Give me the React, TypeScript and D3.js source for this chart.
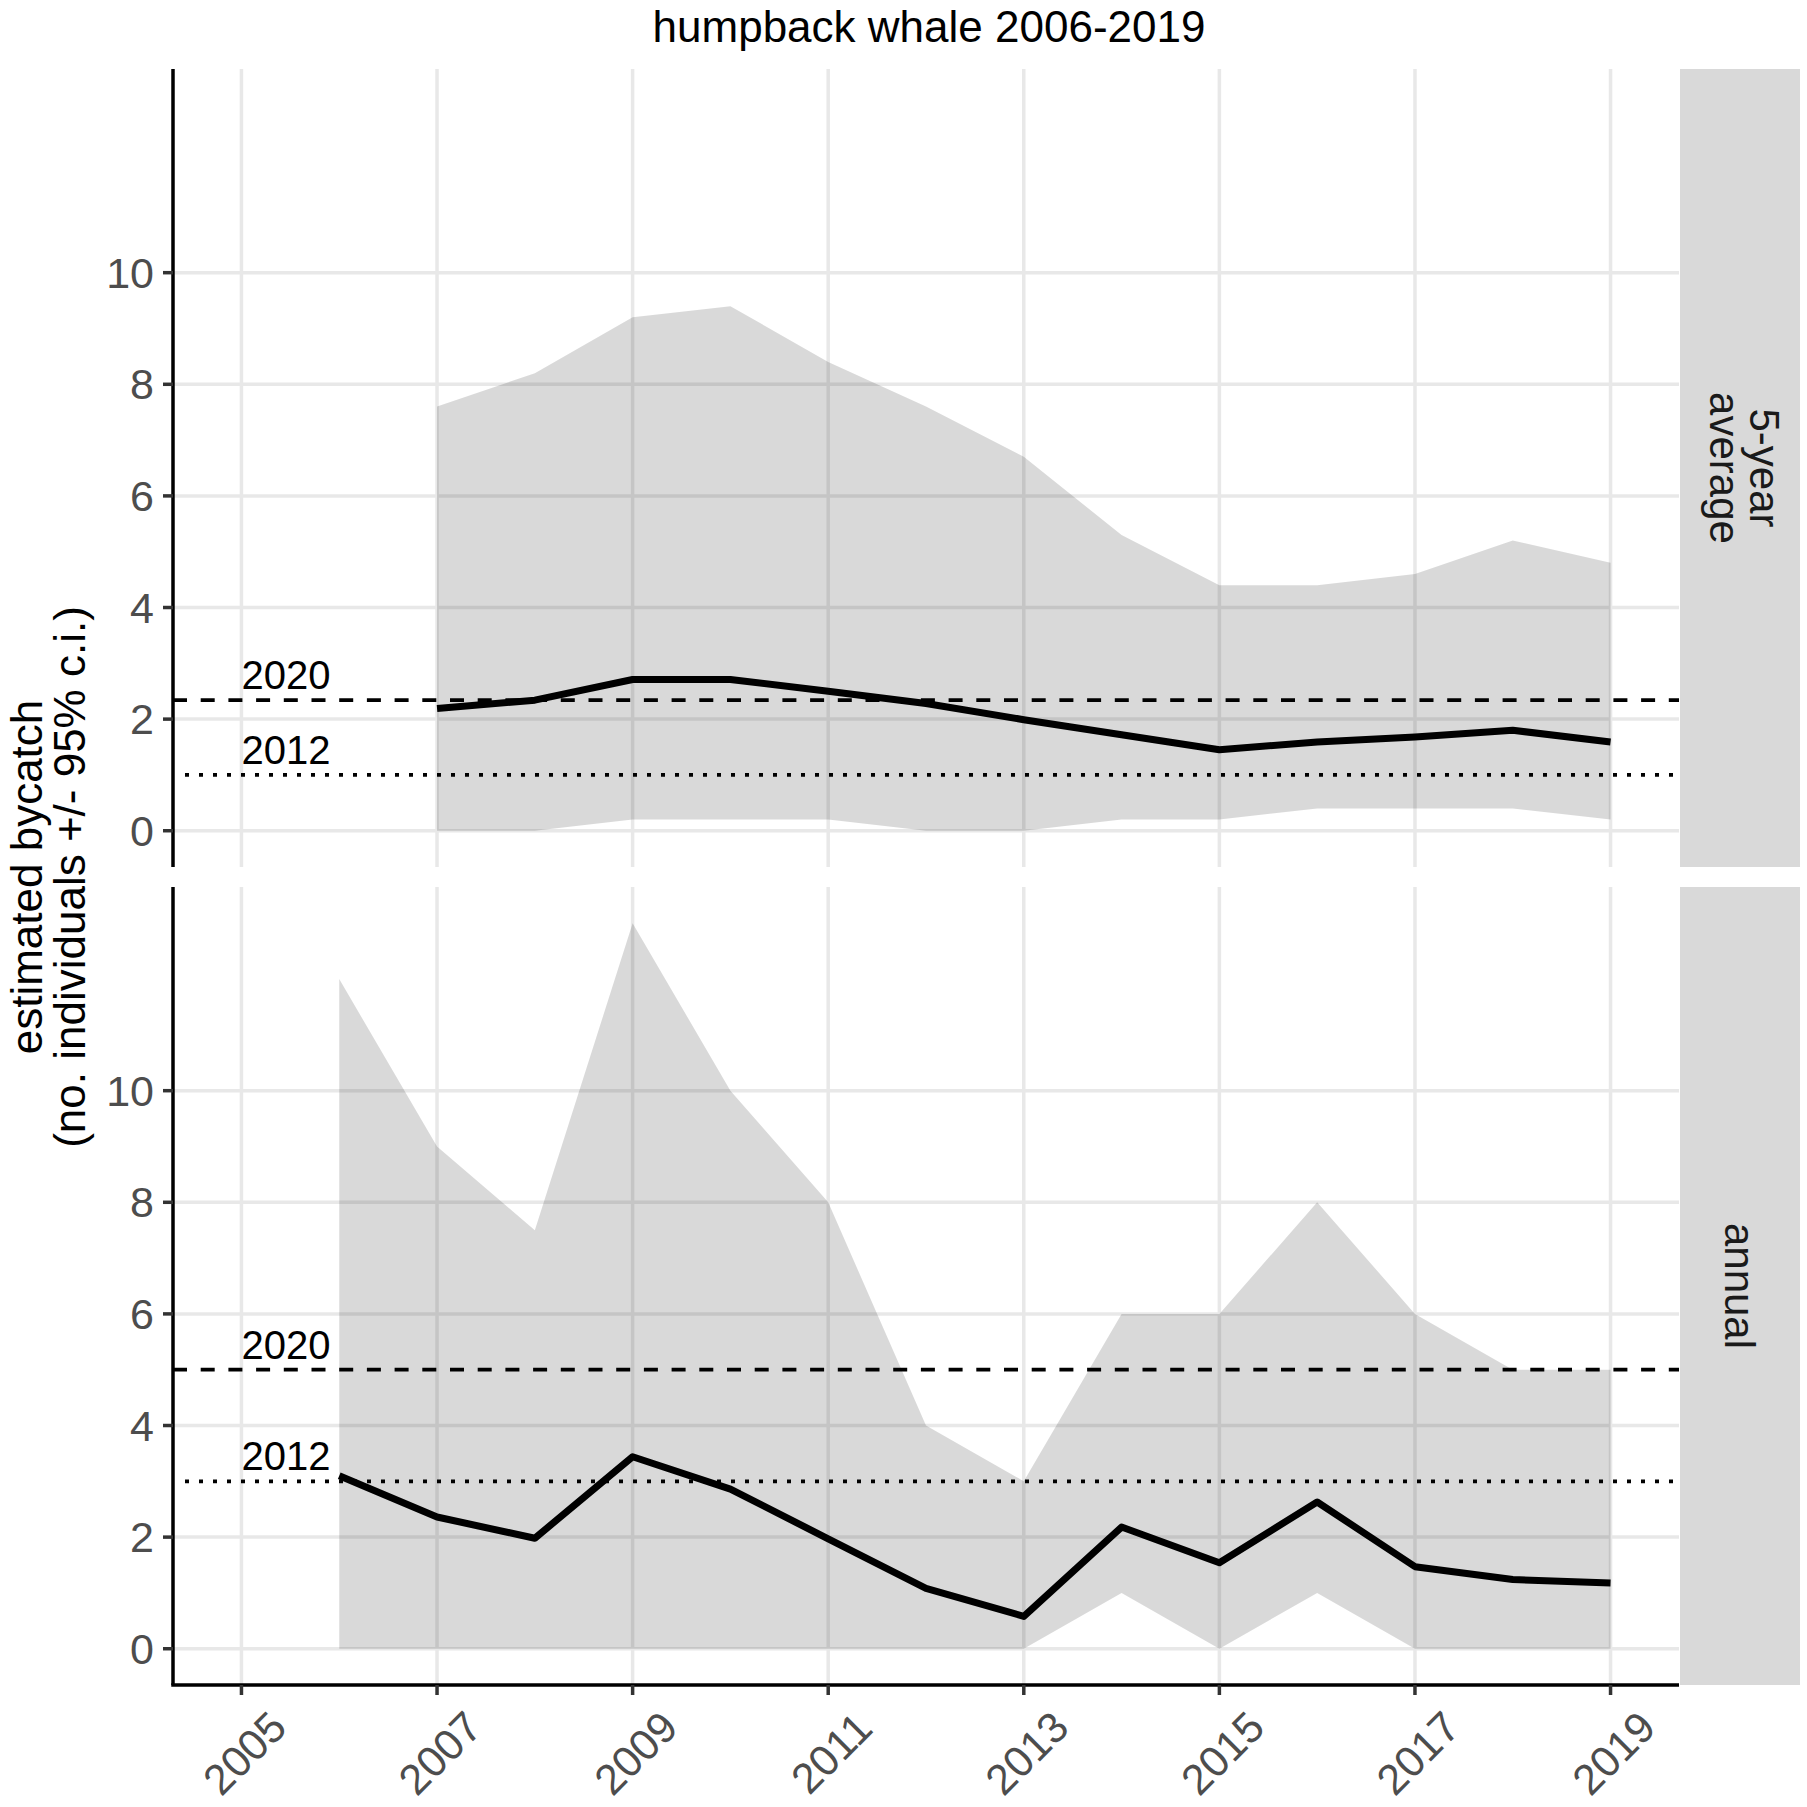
import React from 'react';
import * as d3 from 'd3';

// 5-year average panel
const avgYears = [2007, 2008, 2009, 2010, 2011, 2012, 2013, 2014, 2015, 2016, 2017, 2018, 2019];
const avgMean = [2.19, 2.34, 2.71, 2.71, 2.5, 2.28, 1.99, 1.72, 1.45, 1.59, 1.68, 1.8, 1.59];
const avgUpper = [7.6, 8.2, 9.2, 9.4, 8.4, 7.6, 6.7, 5.3, 4.4, 4.4, 4.6, 5.2, 4.8];
const avgLower = [0, 0, 0.2, 0.2, 0.2, 0, 0, 0.2, 0.2, 0.4, 0.4, 0.4, 0.2];

// annual panel
const annYears = [2006, 2007, 2008, 2009, 2010, 2011, 2012, 2013, 2014, 2015, 2016, 2017, 2018, 2019];
const annMean = [3.1, 2.36, 1.98, 3.44, 2.86, 1.97, 1.08, 0.58, 2.18, 1.54, 2.63, 1.47, 1.24, 1.18];
const annUpper = [12, 9, 7.5, 13, 10, 8, 4, 3, 6, 6, 8, 6, 5, 5];
const annLower = [0, 0, 0, 0, 0, 0, 0, 0, 1, 0, 1, 0, 0, 0];

// reference levels (2020 dashed, 2012 dotted)
const refLabels = ['2020', '2012'];
const avgRefs = [2.34, 1.0];
const annRefs = [5, 3];

const xTicks = [2005, 2007, 2009, 2011, 2013, 2015, 2017, 2019];
const yTicks = [0, 2, 4, 6, 8, 10];

const W = 1807;
const H = 1807;
const FONT = '"Liberation Sans", Arial, Helvetica, sans-serif';
const panelLeft = 173;
const panelRight = 1679;
const stripLeft = 1680;
const stripRight = 1800;

const panels = [
  { top: 69, bottom: 867, years: avgYears, mean: avgMean, upper: avgUpper, lower: avgLower, refs: avgRefs, strip: ['5-year', 'average'] },
  { top: 887, bottom: 1685, years: annYears, mean: annMean, upper: annUpper, lower: annLower, refs: annRefs, strip: ['annual'] },
];

const x = d3.scaleLinear().domain([2004.3, 2019.7]).range([panelLeft, panelRight]);

const Panel: React.FC<{ p: typeof panels[number]; last: boolean }> = ({ p, last }) => {
  const y = d3.scaleLinear().domain([-0.65, 13.65]).range([p.bottom, p.top]);
  const rows = p.years.map((yr, i) => ({ yr, m: p.mean[i], lo: p.lower[i], hi: p.upper[i] }));
  const area = d3.area<typeof rows[number]>().x(d => x(d.yr)).y0(d => y(d.lo)).y1(d => y(d.hi));
  const line = d3.line<typeof rows[number]>().x(d => x(d.yr)).y(d => y(d.m));
  const cy = (p.top + p.bottom) / 2;
  const cx = (stripLeft + stripRight) / 2;

  return (
    <g>
      {/* grid */}
      {xTicks.map(t => (
        <line key={'gx' + t} x1={x(t)} x2={x(t)} y1={p.top} y2={p.bottom} stroke="#E8E8E8" strokeWidth={3.5} />
      ))}
      {yTicks.map(t => (
        <line key={'gy' + t} x1={panelLeft} x2={panelRight} y1={y(t)} y2={y(t)} stroke="#E8E8E8" strokeWidth={3.5} />
      ))}

      <path d={area(rows) || ''} fill="#000" fillOpacity={0.15} />

      {/* reference lines */}
      <line x1={panelLeft} x2={panelRight} y1={y(p.refs[0])} y2={y(p.refs[0])} stroke="#000" strokeWidth={3.8} strokeDasharray="14 13.7" />
      <line x1={panelLeft + 12} x2={panelRight} y1={y(p.refs[1])} y2={y(p.refs[1])} stroke="#000" strokeWidth={3.8} strokeDasharray="4 10" />
      {refLabels.map((lab, i) => (
        <text key={lab} x={x(2005)} y={y(p.refs[i]) - 11} fontSize={40} fill="#000" fontFamily={FONT}>{lab}</text>
      ))}

      <path d={line(rows) || ''} fill="none" stroke="#000" strokeWidth={7} strokeLinejoin="round" />

      {/* y axis */}
      <line x1={panelLeft} x2={panelLeft} y1={p.top} y2={p.bottom} stroke="#000" strokeWidth={3.5} />
      {yTicks.map(t => (
        <g key={'ty' + t}>
          <line x1={panelLeft - 10} x2={panelLeft} y1={y(t)} y2={y(t)} stroke="#333" strokeWidth={3.5} />
          <text x={154} y={y(t)} dy="0.35em" textAnchor="end" fontSize={43} fill="#4D4D4D" fontFamily={FONT}>{t}</text>
        </g>
      ))}

      {/* strip */}
      <rect x={stripLeft} y={p.top} width={stripRight - stripLeft} height={p.bottom - p.top} fill="#D9D9D9" />
      <g transform={`translate(${cx},${cy}) rotate(90)`}>
        {p.strip.length === 1 ? (
          <text x={0} y={0} dy="0.35em" textAnchor="middle" fontSize={42} fill="#1A1A1A" fontFamily={FONT}>{p.strip[0]}</text>
        ) : (
          p.strip.map((s, i) => (
            <text key={s} x={0} y={i === 0 ? -10 : 30} textAnchor="middle" fontSize={42} fill="#1A1A1A" fontFamily={FONT}>{s}</text>
          ))
        )}
      </g>

      {/* x axis on the last panel */}
      {last && (
        <g>
          <line x1={panelLeft - 1.75} x2={panelRight} y1={p.bottom} y2={p.bottom} stroke="#000" strokeWidth={3.5} />
          {xTicks.map(t => (
            <g key={'tx' + t}>
              <line x1={x(t)} x2={x(t)} y1={p.bottom} y2={p.bottom + 10} stroke="#333" strokeWidth={3.5} />
              <text
                transform={`translate(${x(t) + 3},${1753}) rotate(-45)`}
                dy="0.35em"
                textAnchor="middle"
                fontSize={43}
                fill="#4D4D4D"
                fontFamily={FONT}
              >
                {t}
              </text>
            </g>
          ))}
        </g>
      )}
    </g>
  );
};

const App: React.FC = () => {
  const midY = (panels[0].top + panels[1].bottom) / 2;
  return (
    <svg
      width={W}
      height={H}
      viewBox={`0 0 ${W} ${H}`}
      style={{ position: 'absolute', left: 0, top: 0, display: 'block', background: '#fff' }}
    >
      <rect width={W} height={H} fill="#fff" />
      <text x={929} y={42} textAnchor="middle" fontSize={44} fill="#000" fontFamily={FONT}>
        humpback whale 2006-2019
      </text>
      {panels.map((p, i) => (
        <Panel key={i} p={p} last={i === panels.length - 1} />
      ))}
      <g transform={`translate(0,${midY}) rotate(-90)`}>
        <text x={0} y={42} textAnchor="middle" fontSize={44} fill="#000" fontFamily={FONT}>estimated bycatch</text>
        <text x={0} y={85} textAnchor="middle" fontSize={44} fill="#000" fontFamily={FONT}>(no. individuals +/- 95% c.i.)</text>
      </g>
    </svg>
  );
};

export default App;
